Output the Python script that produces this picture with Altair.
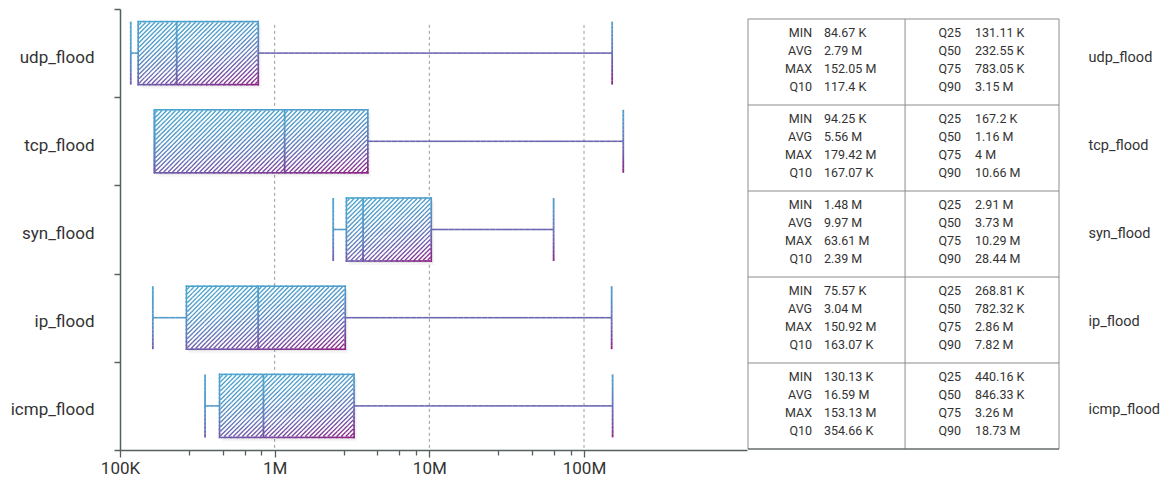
import json
import math
import altair as alt
import pandas as pd

# ---------------- data ----------------
CATEGORIES = ["udp_flood", "tcp_flood", "syn_flood", "ip_flood", "icmp_flood"]
MIN_V = [84.67e3, 94.25e3, 1.48e6, 75.57e3, 130.13e3]
AVG_V = [2.79e6, 5.56e6, 9.97e6, 3.04e6, 16.59e6]
MAX_V = [152.05e6, 179.42e6, 63.61e6, 150.92e6, 153.13e6]
Q10_V = [117.4e3, 167.07e3, 2.39e6, 163.07e3, 354.66e3]
Q25_V = [131.11e3, 167.2e3, 2.91e6, 268.81e3, 440.16e3]
Q50_V = [232.55e3, 1.16e6, 3.73e6, 782.32e3, 846.33e3]
Q75_V = [783.05e3, 4.0e6, 10.29e6, 2.86e6, 3.26e6]
Q90_V = [3.15e6, 10.66e6, 28.44e6, 7.82e6, 18.73e6]

MAJOR_TICKS = [100000, 1000000, 10000000, 100000000]
MAJOR_LABELS = ["100K", "1M", "10M", "100M"]
MINOR_STEPS = [2.8, 4.6, 6.4, 8.2]
GRID_VALUES = [1000000, 10000000, 100000000]

LEFT_STATS = ["MIN", "AVG", "MAX", "Q10"]
RIGHT_STATS = ["Q25", "Q50", "Q75", "Q90"]

# ---------------- layout / style ----------------
PLOT_W, PLOT_H = 627, 441
TABLE_W = 311
X_MIN, X_MAX = 1e5, 1.132e9
DEC = PLOT_W / math.log10(X_MAX / X_MIN)
ROW = PLOT_H / 5.0
BOX_HALF_PX = 31.5
HATCH_PERIOD = 4.5
LABEL_SHIFT_PX = 4
TABLE_ROW_PX = 86
TABLE_TOP_PX = 10
FONT = "Roboto"
AXIS_COLOR = "#55605f"
TEXT_COLOR = "#333333"

GRAD_DOMAIN = [0, 0.35, 0.6, 0.8, 1]
GRAD_RANGE = ["#4aa6cf", "#5299c9", "#6279bb", "#7352a6", "#8e2284"]


def u_of(x):
    return math.log10(x / X_MIN) * DEC


def x_of(u):
    return X_MIN * 10 ** (u / DEC)


def tcol(up, vp):
    return min(1.0, max(0.0, (0.35 * up + vp) / 1.35))


seg_rows = []


def add_line(kind, ua, va, ub, vb, tfunc, step):
    length = max(abs(ub - ua), abs(vb - va))
    n = max(1, math.ceil(length / step))
    for j in range(n):
        a, b = j / n, (j + 1) / n
        au, av = ua + (ub - ua) * a, va + (vb - va) * a
        bu, bv = ua + (ub - ua) * b, va + (vb - va) * b
        seg_rows.append(dict(kind=kind, x=x_of(au), x2=x_of(bu),
                             y=av / ROW, y2=bv / ROW,
                             t=tfunc((au + bu) / 2, (av + bv) / 2)))


box_rows = []
for i, cat in enumerate(CATEGORIES):
    u1, u2 = u_of(Q25_V[i]), u_of(Q75_V[i])
    c = (i + 0.5) * ROW
    v1, v2 = c - BOX_HALF_PX, c + BOX_HALF_PX
    W, H = u2 - u1, v2 - v1
    box_rows.append(dict(cat=cat, q25=Q25_V[i], q75=Q75_V[i],
                         ylo=v1 / ROW, yhi=v2 / ROW))

    def tb(u, v, u1=u1, v1=v1, W=W, H=H):
        return tcol((u - u1) / W, (v - v1) / H)

    # hatch "/" lines
    e = 0.8
    U1, U2, V1, V2 = u1 + e, u2 - e, v1 + e, v2 - e
    k = U1 + V1 + HATCH_PERIOD * 0.5
    while k < U2 + V2:
        lo = max(U1, k - V2)
        hi = min(U2, k - V1)
        if hi - lo > 0.3:
            add_line("hatch", lo, k - lo, hi, k - hi, tb, 6)
        k += HATCH_PERIOD

    # outline
    add_line("outline", u1, v1, u2, v1, tb, 6)
    add_line("outline", u1, v2, u2, v2, tb, 6)
    add_line("outline", u1, v1, u1, v2, tb, 4)
    add_line("outline", u2, v1, u2, v2, tb, 4)

    # median
    um = u_of(Q50_V[i])
    add_line("median", um, v1, um, v2, tb, 4)

    # whiskers
    uq10, umax = u_of(Q10_V[i]), u_of(MAX_V[i])
    add_line("whisker", uq10, c, u1, c, lambda u, v: 0.33, 6)
    add_line("whisker", u2, c, umax, c, lambda u, v: 0.7, 6)
    add_line("cap", uq10, v1, uq10, v2, lambda u, v, v1=v1: tcol(0, (v - v1) / H), 4)
    add_line("cap", umax, v1, umax, v2, lambda u, v, v1=v1: tcol(1, (v - v1) / H), 4)

seg_df = pd.DataFrame(seg_rows)
box_df = pd.DataFrame(box_rows)
grid_df = pd.DataFrame({"gx": GRID_VALUES, "gy": [0.18] * 3, "gy2": [5.0] * 3})

# ---------------- left panel: box plot ----------------
names_js = json.dumps(CATEGORIES)
minor_vals = []
for base in MAJOR_TICKS[:-1]:
    for s in MINOR_STEPS:
        minor_vals.append(int(round(base * s)))
x_values = sorted(MAJOR_TICKS + minor_vals)
major_test = f"indexof({json.dumps(MAJOR_TICKS)}, datum.value) >= 0"
x_label_expr = " : ".join(
    f"datum.value == {v} ? '{lab}'" for v, lab in zip(MAJOR_TICKS, MAJOR_LABELS)
) + " : ''"

x_scale = alt.Scale(type="log", domain=[X_MIN, X_MAX], nice=False)
y_scale = alt.Scale(domain=[0, 5], reverse=True, nice=False, zero=False)

x_axis = alt.Axis(
    values=x_values, labelExpr=x_label_expr, title=None, grid=False,
    labelFlush=False, labelOverlap=False, labelFont=FONT,
    labelFontSize={"condition": {"test": major_test, "value": 17}, "value": 0},
    labelColor=TEXT_COLOR, labelPadding=3,
    domainColor=AXIS_COLOR, domainWidth=1.5, tickColor=AXIS_COLOR, tickWidth=1.3,
    tickSize={"condition": {"test": major_test, "value": 7}, "value": 5},
)
y_axis = alt.Axis(
    values=[j * 0.5 for j in range(11)],
    labelExpr=f"datum.value % 1 == 0.5 ? {names_js}[floor(datum.value)] : ''",
    title=None, grid=False, labelOverlap=False, labelFont=FONT,
    labelFontSize={"condition": {"test": "datum.value % 1 == 0", "value": 0}, "value": 17},
    labelColor=TEXT_COLOR, labelPadding=20, minExtent=112, labelOffset=LABEL_SHIFT_PX,
    domainColor=AXIS_COLOR, domainWidth=1.5, tickColor=AXIS_COLOR, tickWidth=1.5,
    tickSize=6,
    tickOpacity={"condition": {"test": "datum.value % 1 == 0", "value": 1}, "value": 0},
)

color_enc = alt.Color("t:Q", scale=alt.Scale(domain=GRAD_DOMAIN, range=GRAD_RANGE,
                                             interpolate="rgb"), legend=None)

grid_layer = alt.Chart(grid_df).mark_rule(color="#9a9a9a", strokeWidth=1,
                                          strokeDash=[3, 3]).encode(
    x=alt.X("gx:Q", scale=x_scale, axis=x_axis),
    y=alt.Y("gy:Q", scale=y_scale, axis=y_axis),
    y2="gy2:Q",
)


def box_rect(**kw):
    return alt.Chart(box_df).mark_rect(**kw).encode(
        x=alt.X("q25:Q", scale=x_scale, axis=x_axis),
        x2="q75:Q",
        y=alt.Y("ylo:Q", scale=y_scale, axis=y_axis),
        y2="yhi:Q",
    )


shadow2 = box_rect(fill="#000000", opacity=0.035, xOffset=3, x2Offset=3, yOffset=4, y2Offset=4)
shadow1 = box_rect(fill="#000000", opacity=0.06, xOffset=1.5, x2Offset=1.5, yOffset=2, y2Offset=2)
white_box = box_rect(fill="#ffffff", opacity=1)


def seg_layer(kind, width, cap):
    return alt.Chart(seg_df).transform_filter(
        alt.datum.kind == kind
    ).mark_rule(strokeWidth=width, strokeCap=cap).encode(
        x=alt.X("x:Q", scale=x_scale, axis=x_axis),
        x2="x2:Q",
        y=alt.Y("y:Q", scale=y_scale, axis=y_axis),
        y2="y2:Q",
        color=color_enc,
    )


left = alt.layer(
    grid_layer, shadow2, shadow1, white_box,
    seg_layer("hatch", 1.35, "butt"),
    seg_layer("whisker", 1.6, "butt"),
    seg_layer("cap", 1.8, "butt"),
    seg_layer("outline", 1.6, "square"),
    seg_layer("median", 1.8, "butt"),
).properties(width=PLOT_W, height=PLOT_H)

# ---------------- right panel: stats table ----------------
def fmt(v):
    if v >= 1e6:
        s, unit = f"{v / 1e6:.2f}", "M"
    else:
        s, unit = f"{v / 1e3:.2f}", "K"
    s = s.rstrip("0").rstrip(".")
    return f"{s} {unit}"


COL_SPLIT = 0.505
LABEL_X = [0.206, 0.685]
VALUE_X = [0.244, 0.730]
LINE_STEP = 0.2093

text_rows = []
for i in range(len(CATEGORIES)):
    left_vals = [MIN_V[i], AVG_V[i], MAX_V[i], Q10_V[i]]
    right_vals = [Q25_V[i], Q50_V[i], Q75_V[i], Q90_V[i]]
    for col, (labs, vals) in enumerate([(LEFT_STATS, left_vals), (RIGHT_STATS, right_vals)]):
        for k, (lab, val) in enumerate(zip(labs, vals)):
            yy = i + 0.48 + (k - 1.5) * LINE_STEP
            text_rows.append(dict(lx=LABEL_X[col], vx=VALUE_X[col], ty=yy,
                                  lab=lab, val=fmt(val)))
text_df = pd.DataFrame(text_rows)

hline_df = pd.DataFrame({"hy": [0, 1, 2, 3, 4], "hx": [0] * 5, "hx2": [1] * 5})
bottom_df = pd.DataFrame({"hy": [5], "hx": [0], "hx2": [1]})
vline_df = pd.DataFrame({"vx": [0, COL_SPLIT, 1], "vy": [0] * 3, "vy2": [5] * 3})

top_units = TABLE_TOP_PX / TABLE_ROW_PX
ty_scale = alt.Scale(domain=[-top_units, PLOT_H / TABLE_ROW_PX - top_units],
                     reverse=True, nice=False, zero=False)
tx_scale = alt.Scale(domain=[0, 1], nice=False, zero=False)
# right-hand labels sit level with the left-hand labels
right_label_vals = [((i + 0.5) * ROW + LABEL_SHIFT_PX) / TABLE_ROW_PX - top_units
                    for i in range(len(CATEGORIES))]
ty_axis = alt.Axis(
    orient="right", values=right_label_vals,
    labelExpr=f"{names_js}[floor(datum.value)]",
    title=None, grid=False, domain=False, ticks=False, labelOverlap=False,
    labelFontSize=14.5, labelFont=FONT, labelColor=TEXT_COLOR, labelPadding=29,
)

hl = alt.Chart(hline_df).mark_rule(color="#8c8c8c", strokeWidth=1).encode(
    x=alt.X("hx:Q", scale=tx_scale, axis=None), x2="hx2:Q",
    y=alt.Y("hy:Q", scale=ty_scale, axis=ty_axis),
)
bl = alt.Chart(bottom_df).mark_rule(color="#666b6b", strokeWidth=1.5).encode(
    x=alt.X("hx:Q", scale=tx_scale, axis=None), x2="hx2:Q",
    y=alt.Y("hy:Q", scale=ty_scale, axis=ty_axis),
)
vl = alt.Chart(vline_df).mark_rule(color="#8c8c8c", strokeWidth=1).encode(
    x=alt.X("vx:Q", scale=tx_scale, axis=None),
    y=alt.Y("vy:Q", scale=ty_scale, axis=ty_axis), y2="vy2:Q",
)
lab_txt = alt.Chart(text_df).mark_text(align="right", baseline="middle", fontSize=12.5,
                                       font=FONT, color=TEXT_COLOR).encode(
    x=alt.X("lx:Q", scale=tx_scale, axis=None),
    y=alt.Y("ty:Q", scale=ty_scale, axis=ty_axis),
    text="lab:N",
)
val_txt = alt.Chart(text_df).mark_text(align="left", baseline="middle", fontSize=12.5,
                                       font=FONT, color=TEXT_COLOR).encode(
    x=alt.X("vx:Q", scale=tx_scale, axis=None),
    y=alt.Y("ty:Q", scale=ty_scale, axis=ty_axis),
    text="val:N",
)

right = alt.layer(hl, vl, bl, lab_txt, val_txt).properties(width=TABLE_W, height=PLOT_H)

chart = alt.hconcat(left, right, spacing=0).properties(
    padding=0, background="#ffffff"
).configure_view(stroke=None).configure_text(font=FONT)

chart.save("out.html", embed_options={"renderer": "svg", "actions": False})
